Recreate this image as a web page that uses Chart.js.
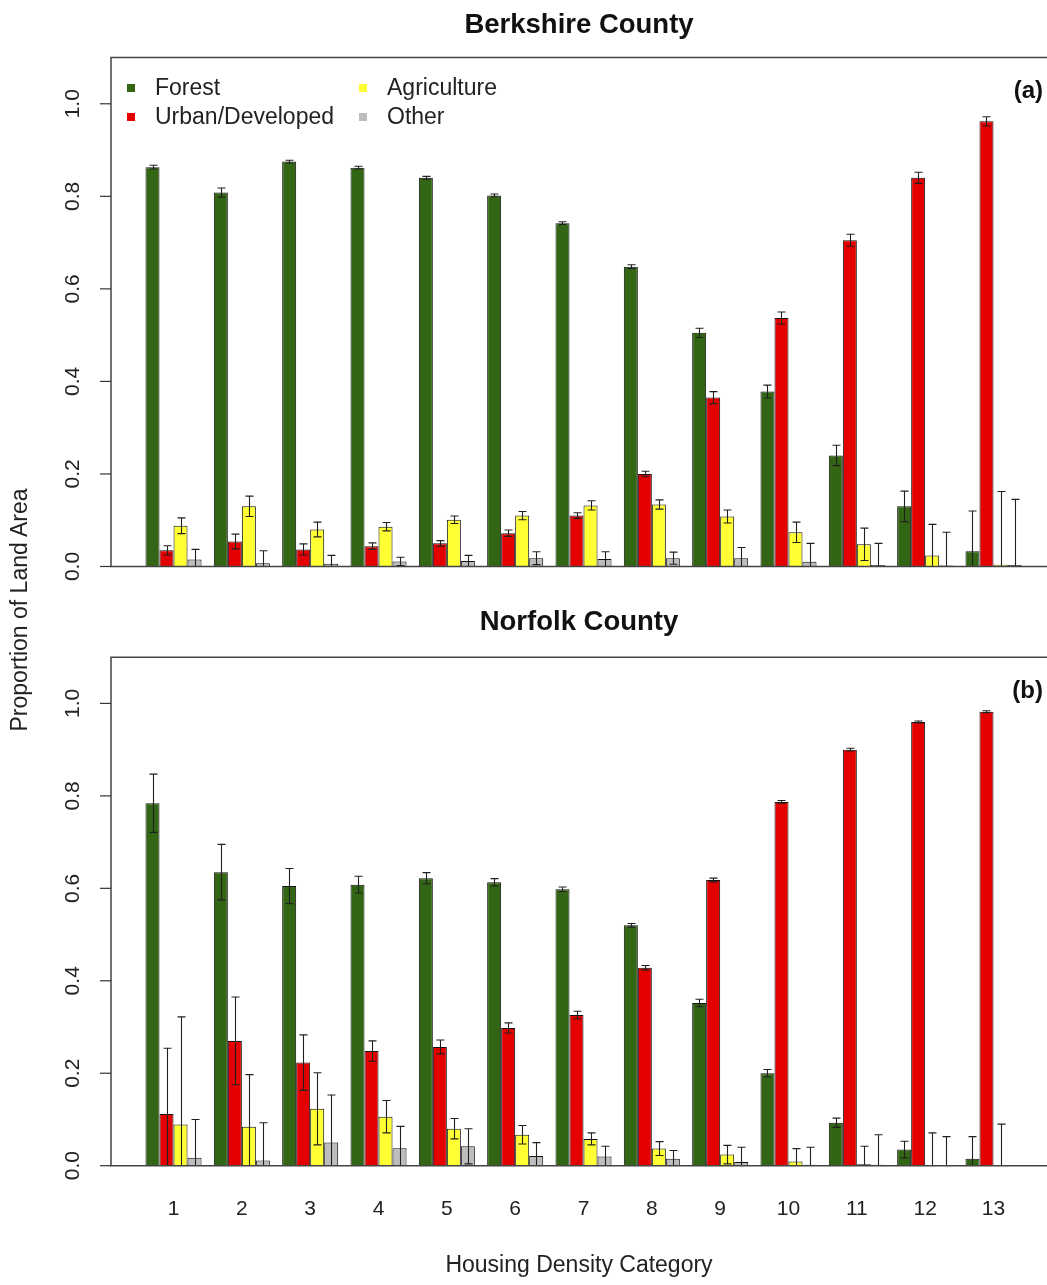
<!DOCTYPE html>
<html><head><meta charset="utf-8">
<script src="https://cdn.jsdelivr.net/npm/chart.js@4/dist/chart.umd.min.js"></script>
<style>
html,body{margin:0;padding:0;background:#fff;}
#wrap{position:relative;width:1047px;height:1285px;overflow:hidden;}
canvas{display:block;}
#ytitle{position:absolute;left:20px;top:610px;width:400px;margin-left:-200px;margin-top:-14px;height:28px;line-height:28px;text-align:center;transform:rotate(-90deg);font:23px "Liberation Sans",Arial,sans-serif;color:#222;white-space:nowrap;}
</style></head>
<body><div id="wrap">
<canvas id="c1" width="1047" height="600"></canvas>
<canvas id="c2" width="1047" height="685"></canvas>
<div id="ytitle">Proportion of Land Area</div>
</div>
<script>
// ---------- data ----------
const categories = [1, 2, 3, 4, 5, 6, 7, 8, 9, 10, 11, 12, 13];
const seriesNames = ['Forest', 'Urban/Developed', 'Agriculture', 'Other'];
const yTicks = [0, 0.2, 0.4, 0.6, 0.8, 1.0];
const panelTitles = ['Berkshire County', 'Norfolk County'];
const panelTags = ['(a)', '(b)'];

// Berkshire County
const forestA    = [0.863, 0.808, 0.875, 0.862, 0.840, 0.802, 0.742, 0.648, 0.505, 0.378, 0.240, 0.130, 0.033];
const forestAErr = [0.004, 0.010, 0.003, 0.003, 0.003, 0.003, 0.003, 0.004, 0.010, 0.014, 0.022, 0.033, 0.087];
const urbanA     = [0.035, 0.054, 0.037, 0.044, 0.050, 0.072, 0.110, 0.200, 0.365, 0.537, 0.705, 0.840, 0.962];
const urbanAErr  = [0.010, 0.016, 0.012, 0.007, 0.006, 0.007, 0.006, 0.006, 0.013, 0.013, 0.013, 0.012, 0.010];
const agriA      = [0.088, 0.130, 0.080, 0.086, 0.101, 0.110, 0.132, 0.134, 0.108, 0.074, 0.048, 0.024, 0.004];
const agriAErr   = [0.017, 0.022, 0.016, 0.009, 0.008, 0.009, 0.010, 0.010, 0.014, 0.022, 0.035, 0.067, 0.158];
const otherA     = [0.015, 0.007, 0.006, 0.011, 0.012, 0.018, 0.016, 0.018, 0.018, 0.010, 0.003, 0.002, 0.003];
const otherAErr  = [0.022, 0.027, 0.018, 0.009, 0.012, 0.014, 0.016, 0.013, 0.023, 0.040, 0.047, 0.072, 0.142];

// Norfolk County
const forestB    = [0.784, 0.635, 0.605, 0.608, 0.622, 0.613, 0.598, 0.520, 0.352, 0.200, 0.093, 0.035, 0.015];
const forestBErr = [0.063, 0.060, 0.038, 0.018, 0.012, 0.008, 0.005, 0.004, 0.008, 0.008, 0.010, 0.018, 0.048];
const urbanB     = [0.112, 0.270, 0.223, 0.248, 0.257, 0.298, 0.326, 0.428, 0.618, 0.787, 0.900, 0.960, 0.982];
const urbanBErr  = [0.142, 0.095, 0.060, 0.022, 0.015, 0.011, 0.008, 0.005, 0.004, 0.003, 0.003, 0.002, 0.002];
const agriB      = [0.089, 0.084, 0.123, 0.106, 0.080, 0.067, 0.058, 0.037, 0.024, 0.009, 0.003, 0.001, 0.000];
const agriBErr   = [0.233, 0.113, 0.078, 0.035, 0.022, 0.020, 0.013, 0.015, 0.020, 0.028, 0.039, 0.070, 0.090];
const otherB     = [0.017, 0.011, 0.050, 0.038, 0.042, 0.021, 0.020, 0.015, 0.008, 0.002, 0.002, 0.001, 0.000];
const otherBErr  = [0.083, 0.082, 0.103, 0.047, 0.038, 0.029, 0.022, 0.018, 0.032, 0.038, 0.065, 0.062, 0.000];

// ---------- styling ----------
const colors = ['#336614', '#e40000', '#ffff33', '#bdbdbd'];
const FONT = '"Liberation Sans", Arial, Helvetica, sans-serif';
const X_MIN = 0.085, X_MAX = 13.783, Y_MIN = 0, Y_MAX = 1.1;

const panelPlugin = {
  id: 'panel',
  afterDatasetsDraw(chart) {
    const ctx = chart.ctx, ya = chart.scales.y, ca = chart.chartArea;
    ctx.save();
    ctx.beginPath();
    ctx.rect(ca.left, ca.top, ca.right - ca.left, ca.bottom - ca.top);
    ctx.clip();
    ctx.strokeStyle = '#202020';
    ctx.lineWidth = 1.1;
    chart.data.datasets.forEach((ds, di) => {
      const meta = chart.getDatasetMeta(di);
      meta.data.forEach((bar, i) => {
        const v = ds.data[i].y, e = ds.errors[i];
        if (!e) return;
        const x = Math.round(bar.x) + 0.5;
        const yt = ya.getPixelForValue(v + e), yb = ya.getPixelForValue(v - e);
        ctx.beginPath();
        ctx.moveTo(x, yt); ctx.lineTo(x, yb);
        ctx.moveTo(x - 4, yt); ctx.lineTo(x + 4, yt);
        ctx.moveTo(x - 4, yb); ctx.lineTo(x + 4, yb);
        ctx.stroke();
      });
    });
    ctx.restore();
  },
  afterDraw(chart, args, opts) {
    const ctx = chart.ctx, ya = chart.scales.y, ca = chart.chartArea;
    ctx.save();
    // box
    ctx.strokeStyle = '#444';
    ctx.lineWidth = 1.5;
    ctx.beginPath();
    ctx.moveTo(chart.width + 2, ca.top); ctx.lineTo(ca.left, ca.top);
    ctx.lineTo(ca.left, ca.bottom); ctx.lineTo(chart.width + 2, ca.bottom);
    ctx.stroke();
    // y ticks + rotated labels
    ctx.lineWidth = 1.2;
    ctx.strokeStyle = '#333';
    ctx.fillStyle = '#222';
    ctx.font = '21px ' + FONT;
    ctx.textAlign = 'center';
    ctx.textBaseline = 'middle';
    ya.ticks.forEach(t => {
      const y = ya.getPixelForValue(t.value);
      ctx.beginPath();
      ctx.moveTo(ca.left - 11, y); ctx.lineTo(ca.left, y);
      ctx.stroke();
      ctx.save();
      ctx.translate(73, y);
      ctx.rotate(-Math.PI / 2);
      ctx.fillText(t.value.toFixed(1), 0, 0);
      ctx.restore();
    });
    // panel tag
    ctx.font = 'bold 24px ' + FONT;
    ctx.textAlign = 'right';
    ctx.fillStyle = '#111';
    ctx.fillText(opts.tag, chart.width - 4, ca.top + 34);
    // legend
    if (opts.legend) {
      const pos = [[131, 88], [131, 117], [363, 88], [363, 117]];
      ctx.font = '23px ' + FONT;
      ctx.textAlign = 'left';
      chart.data.datasets.forEach((ds, i) => {
        const [mx, my] = pos[i];
        ctx.fillStyle = ds.backgroundColor;
        ctx.fillRect(mx - 4, my - 4, 8, 8);
        ctx.fillStyle = '#222';
        ctx.fillText(ds.label, mx + 24, my + 1);
      });
    }
    ctx.restore();
  }
};

function makeChart(id, idx, series, errs, showX, titlePad, xHeight) {
  const datasets = seriesNames.map((name, s) => ({
    label: name,
    data: categories.map((c, i) => ({ x: c, y: series[s][i] })),
    errors: errs[s],
    backgroundColor: colors[s],
    borderColor: '#111',
    borderWidth: 1,
    borderSkipped: 'start',
    categoryPercentage: 0.82,
    barPercentage: 1.0
  }));
  return new Chart(document.getElementById(id), {
    type: 'bar',
    data: { datasets },
    plugins: [panelPlugin],
    options: {
      responsive: false,
      animation: false,
      devicePixelRatio: 1,
      layout: { padding: 0 },
      plugins: {
        legend: { display: false },
        tooltip: { enabled: false },
        title: {
          display: true, text: panelTitles[idx], fullSize: false,
          font: { size: 27.5, weight: 'bold', family: FONT }, color: '#111',
          padding: titlePad
        },
        panel: { tag: panelTags[idx], legend: idx === 0 }
      },
      scales: {
        x: {
          type: 'linear', min: X_MIN, max: X_MAX, offset: false,
          grid: { display: false, drawTicks: false }, border: { display: false },
          afterBuildTicks: s => { s.ticks = categories.map(v => ({ value: v })); },
          ticks: { display: showX, padding: 31, autoSkip: false, maxRotation: 0,
                   font: { size: 21, family: FONT }, color: '#222', callback: v => String(v) },
          title: { display: showX, text: 'Housing Density Category',
                   font: { size: 23, family: FONT }, color: '#222', padding: { top: 0, bottom: 6 } },
          afterFit: s => { s.height = xHeight; }
        },
        y: {
          type: 'linear', min: Y_MIN, max: Y_MAX,
          grid: { display: false, drawTicks: false }, border: { display: false },
          afterBuildTicks: s => { s.ticks = yTicks.map(v => ({ value: v })); },
          ticks: { display: false },
          afterFit: s => { s.width = 111; }
        }
      }
    }
  });
}

makeChart('c1', 0, [forestA, urbanA, agriA, otherA], [forestAErr, urbanAErr, agriAErr, otherAErr],
          false, { top: 9, bottom: 15.5 }, 33.5);
makeChart('c2', 1, [forestB, urbanB, agriB, otherB], [forestBErr, urbanBErr, agriBErr, otherBErr],
          true, { top: 6, bottom: 18.2 }, 119.3);
</script>
</body></html>
